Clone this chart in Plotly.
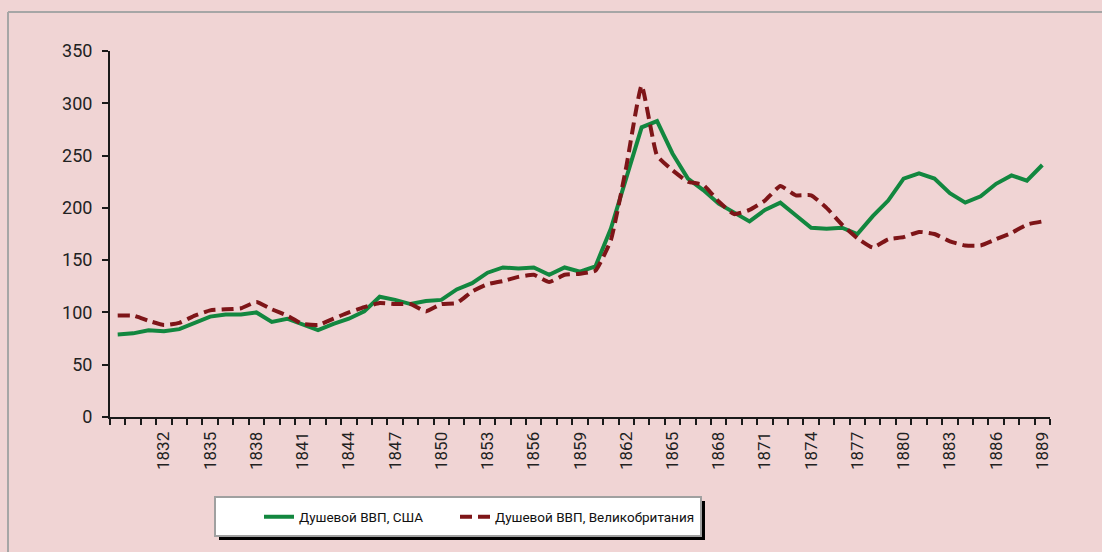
import plotly.graph_objs as go

##### datos: ВВП на душу, 1829-1889 #####

anios = list(range(1829, 1890))

usa = [79, 80, 83, 82, 84, 90, 96, 98, 98, 100, 91, 94, 88, 83, 89,
       94, 101, 115, 112, 108, 111, 112, 122, 128, 138, 143, 142, 143, 136, 143,
       139, 144, 180, 230, 277, 283, 252, 228, 217, 204, 196, 187, 198, 205, 193,
       181, 180, 181, 175, 192, 207, 228, 233, 228, 214, 205, 211, 223, 231, 226,
       241]

gb = [97, 97, 92, 88, 90, 97, 102, 103, 104, 110, 103, 97, 89, 88, 94,
      100, 105, 109, 108, 108, 101, 108, 109, 120, 127, 130, 134, 136, 129, 136,
      137, 140, 169, 239, 317, 250, 236, 225, 222, 206, 194, 198, 207, 221, 212,
      212, 200, 184, 171, 162, 170, 172, 177, 175, 168, 164, 164, 170, 176, 184,
      187]

etiquetas = list(range(1832, 1890, 3))

nombres = ['Душевой ВВП, США', 'Душевой ВВП, Великобритания']

###### geometria en pixeles ######
W, H = 1102, 552
L, R, T, B = 110, 1050, 51, 417


def px(x):
    return (x - L) / (R - L)


def py(y):
    return (B - y) / (B - T)


fondo = '#F0D4D4'
fuente = 'Liberation Sans Narrow, Roboto, Arial, sans-serif'

data = [
    go.Scatter(x=anios, y=usa, name=nombres[0], mode='lines', legend='legend',
               line=dict(color='#12873F', width=4)),
    go.Scatter(x=anios, y=gb, name=nombres[1], mode='lines', legend='legend2',
               line=dict(color='#7E1518', width=4, dash='12px,6px',
                         shape='spline', smoothing=0.4)),
]

shapes = [
    # marco gris (solo se ven arriba y a la izquierda)
    dict(type='line', xref='paper', yref='paper', x0=px(8), x1=px(W + 5), y0=py(12), y1=py(12),
         line=dict(color='#A6A6A6', width=2)),
    dict(type='line', xref='paper', yref='paper', x0=px(8), x1=px(8), y0=py(12), y1=py(H + 5),
         line=dict(color='#A6A6A6', width=2)),
    # sombra y caja de la leyenda
    dict(type='rect', xref='paper', yref='paper', x0=px(219), x1=px(705), y0=py(540), y1=py(501),
         fillcolor='black', line=dict(width=0)),
    dict(type='rect', xref='paper', yref='paper', x0=px(215), x1=px(701), y0=py(536), y1=py(497),
         fillcolor='white', line=dict(color='#A0A0A0', width=2)),
]

ley = dict(orientation='h', y=py(517), xanchor='left', yanchor='middle',
           bgcolor='rgba(0,0,0,0)', borderwidth=0, font=dict(size=13.5, color='#111111'))

Layout = go.Layout(
    width=W, height=H,
    margin=dict(l=L, r=W - R, t=T, b=H - B, pad=0),
    paper_bgcolor=fondo, plot_bgcolor=fondo,
    font=dict(family=fuente, size=18, color='#222222'),
    showlegend=True,
    legend=dict(ley, x=px(259)),
    legend2=dict(ley, x=px(455)),
    xaxis=dict(range=[1828.5, 1889.5], tickvals=etiquetas, ticktext=[str(a) for a in etiquetas],
               tickangle=-90, ticks='', ticklabelstandoff=6, showgrid=False, zeroline=False,
               showline=True, linecolor='#1A1A1A', linewidth=2,
               minor=dict(ticks='outside', tick0=1828.5, dtick=1, ticklen=6,
                          tickcolor='#1A1A1A', tickwidth=1.5, showgrid=False),
               tickfont=dict(size=17)),
    yaxis=dict(range=[0, 350], tickvals=list(range(0, 351, 50)), ticks='outside', ticklen=6,
               tickcolor='#1A1A1A', tickwidth=1.5, showgrid=False, zeroline=False,
               showline=True, linecolor='#1A1A1A', linewidth=2, tickfont=dict(size=18),
               ticklabelstandoff=6),
    shapes=shapes,
)

fig = go.Figure(data, Layout)
# sin margen del body para que la figura ocupe exactamente la ventana
fig.write_html('out.html', config={'displayModeBar': False},
               post_script="document.body.style.margin='0';")
